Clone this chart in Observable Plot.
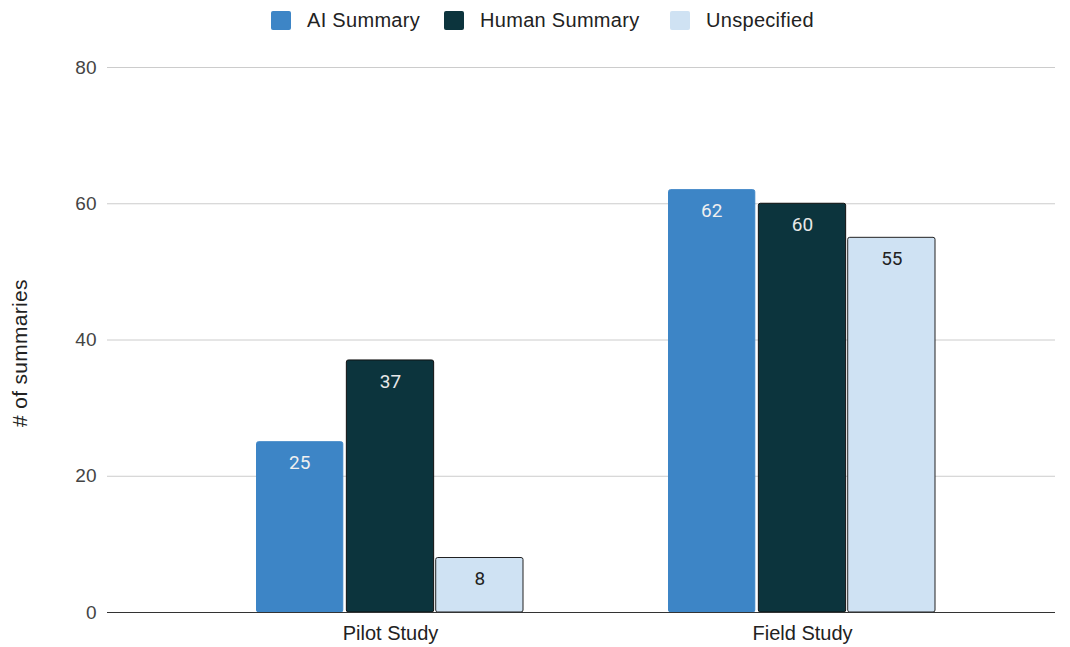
<!DOCTYPE html>
<html>
<head>
<meta charset="utf-8">
<script src="https://cdn.jsdelivr.net/npm/d3@7"></script>
<script src="https://cdn.jsdelivr.net/npm/@observablehq/plot@0.6"></script>
<style>
  html, body { margin: 0; padding: 0; background: #fff; }
  #wrap { position: relative; width: 1070px; height: 647px; font-family: "Liberation Sans", Arial, sans-serif; }
  #legend { position: relative; height: 40px; }
  .item { position: absolute; top: 0; height: 40px; display: flex; align-items: center; font-size: 20px; letter-spacing: 0.3px; color: #222; }
  .sw { width: 20px; height: 19px; border-radius: 2px; margin-right: 16px; }
  #ylabel { position: absolute; left: 20px; top: 353px; transform: translate(-50%, -50%) rotate(-90deg); white-space: nowrap; font-size: 21px; letter-spacing: 0.3px; color: #222; }
</style>
</head>
<body>
<div id="wrap">
  <div id="legend"></div>
  <div id="chart"></div>
  <div id="ylabel"></div>
</div>
<script>
const groups = ["Pilot Study", "Field Study"];
const seriesNames = ["AI Summary", "Human Summary", "Unspecified"];
const aiValues = [25, 62];
const humanValues = [37, 60];
const unspecifiedValues = [8, 55];
const yTicks = [0, 20, 40, 60, 80];
const yLabel = "# of summaries";

const colors = ["#3d85c6", "#0c343d", "#cfe2f3"];
const strokes = ["#3d85c6", "#111111", "#222222"];
const labelColors = ["#f0f0f0", "#e8e8e8", "#222222"];
const legendLeft = [271, 444, 670];

const valuesBySeries = [aiValues, humanValues, unspecifiedValues];
const rows = [];
seriesNames.forEach((s, i) => groups.forEach((g, j) => rows.push({group: g, series: s, index: i, value: valuesBySeries[i][j]})));

// legend
const legend = document.getElementById("legend");
seriesNames.forEach((s, i) => {
  const d = document.createElement("div");
  d.className = "item";
  d.style.left = legendLeft[i] + "px";
  d.innerHTML = `<div class="sw" style="background:${colors[i]}"></div><span>${s}</span>`;
  legend.appendChild(d);
});
document.getElementById("ylabel").textContent = yLabel;

const W = 1070, H = 607, ML = 107, MR = 15;
const xOpts = {type: "band", domain: groups, paddingInner: 0.3495, paddingOuter: 0.325, align: 0.555};
const xs = d3.scaleBand().domain(groups).range([ML, W - MR]).paddingInner(xOpts.paddingInner).paddingOuter(xOpts.paddingOuter).align(xOpts.align);
const bw = xs.bandwidth();
const third = bw / 3;

const marks = [
  Plot.ruleY(yTicks.filter(t => t > 0), {stroke: "#cccccc", strokeWidth: 1}),
];
seriesNames.forEach((s, i) => {
  const data = rows.filter(r => r.index === i);
  marks.push(Plot.barY(data, {
    x: "group", y: "value",
    fill: colors[i], stroke: strokes[i], strokeWidth: 1,
    insetLeft: i * third + (i === 0 ? 0.5 : 1), insetRight: (2 - i) * third + (i === 0 ? 2.5 : 1),
    rx: 2
  }));
  marks.push(Plot.text(data, {
    x: "group", y: "value", text: d => String(d.value),
    dx: (i + 0.5) * third - bw / 2 - (i === 0 ? 1.5 : 0), dy: 21,
    fill: labelColors[i], fontSize: 19, fontFamily: "Roboto, sans-serif"
  }));
});
marks.push(Plot.ruleY([0], {stroke: "#333333", strokeWidth: 1.2}));
marks.push(Plot.axisY({ticks: yTicks, tickSize: 0, tickPadding: 11, fontSize: 19, fill: "#444", label: null}));
marks.push(Plot.axisX({tickSize: 0, tickPadding: 13, fontSize: 20, fill: "#222", label: null, style: {letterSpacing: "0.3px"}}));

const chart = Plot.plot({
  width: W, height: H,
  marginLeft: ML, marginRight: MR, marginTop: 27, marginBottom: 35,
  style: {fontFamily: "'Liberation Sans', Arial, sans-serif", fontSize: "19px", color: "#222", background: "#fff"},
  x: xOpts,
  y: {domain: [0, 80]},
  marks
});
document.getElementById("chart").appendChild(chart);
</script>
</body>
</html>
